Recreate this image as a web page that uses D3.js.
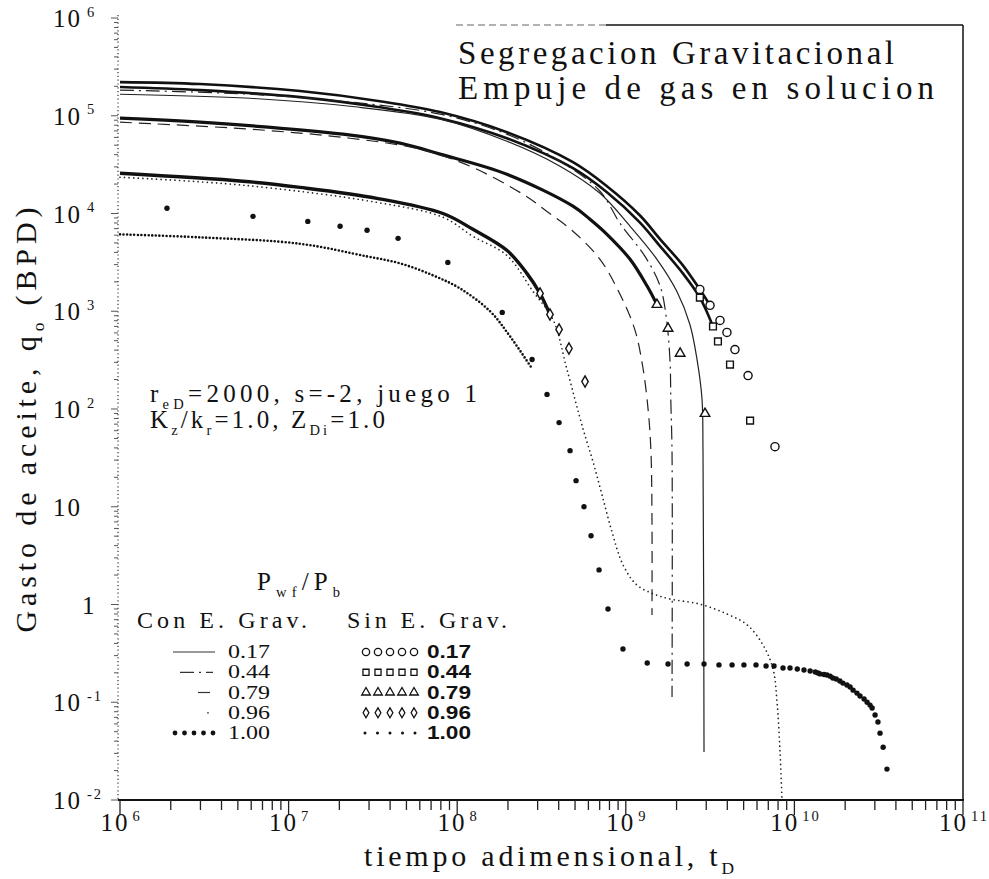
<!DOCTYPE html>
<html>
<head>
<meta charset="utf-8">
<script src="https://cdn.jsdelivr.net/npm/d3@7"></script>
<style>
	body { margin: 0; background: #fff; }
	svg { display: block; }
</style>
</head>
<body>
<div id="chart"></div>
<script>
// ---- Sin E. Grav. (markers) ----
const tSin017 = [1e6, 2.98e6, 1.17e7, 3.48e7, 7.91e7, 1.97e8, 4.86e8, 7.73e8, 1.21e9, 1.6e9, 2.18e9, 2.75e9, 3.16e9, 3.62e9, 3.98e9, 4.44e9, 5.31e9, 7.67e9];
const qSin017 = [2.21e5, 2.11e5, 1.79e5, 1.41e5, 1.09e5, 6.79e4, 3.35e4, 1.9e4, 9.59e3, 5.44e3, 2.95e3, 1.67e3, 1.15e3, 805, 607, 406, 220, 41.2];

const tSin044 = [1e6, 2.98e6, 1.17e7, 3.48e7, 7.91e7, 1.97e8, 4.86e8, 7.73e8, 1.21e9, 1.6e9, 2.18e9, 2.75e9, 3.29e9, 3.52e9, 4.15e9, 5.46e9];
const qSin044 = [1.97e5, 1.83e5, 1.55e5, 1.22e5, 9.45e4, 5.89e4, 2.91e4, 1.65e4, 8.13e3, 4.61e3, 2.44e3, 1.38e3, 699, 491, 285, 76];

const tSin079 = [1e6, 2.98e6, 2.1e7, 4.58e7, 7.91e7, 1.97e8, 4.86e8, 6.13e8, 7.73e8, 1.06e9, 1.34e9, 1.53e9, 1.78e9, 2.1e9, 2.95e9];
const qSin079 = [9.45e4, 8.59e4, 6.48e4, 5.24e4, 4.05e4, 2.52e4, 1.19e4, 8.73e3, 6.12e3, 3.4e3, 1.8e3, 1.17e3, 667, 370, 89.7];

const tSin096 = [1e6, 5.36e6, 1.17e7, 3.34e7, 8.24e7, 1.24e8, 1.97e8, 2.59e8, 3.1e8, 3.55e8, 4.02e8, 4.6e8, 5.73e8];
const qSin096 = [2.58e4, 2.14e4, 1.85e4, 1.43e4, 1.0e4, 6.89e3, 4.2e3, 2.44e3, 1.52e3, 927, 652, 416, 191];

const tSin100 = [1e6, 2.98e6, 1.17e7, 2.92e7, 4.58e7, 7.18e7, 1.04e8, 1.57e8, 2.06e8, 2.78e8];
const qSin100 = [6.12e3, 5.7e3, 4.9e3, 3.64e3, 3.09e3, 2.33e3, 1.71e3, 995, 552, 259];

// ---- Con E. Grav. (lines) ----
const tCon017 = [1e6, 5.9e6, 2.31e7, 7.91e7, 1.97e8, 4.07e8, 7.03e8, 1.06e9, 1.53e9, 2.01e9, 2.4e9, 2.64e9, 2.83e9, 2.87e9, 2.91e9];
const qCon017 = [1.66e5, 1.51e5, 1.25e5, 9.23e4, 5.49e4, 3.05e4, 1.61e4, 7.4e3, 3.4e3, 1.59e3, 732, 328, 128, 36.6, 0.031];

const tCon044 = [1e6, 5.9e6, 2.31e7, 7.91e7, 1.97e8, 4.07e8, 7.03e8, 9.24e8, 1.3e9, 1.6e9, 1.75e9, 1.83e9, 1.85e9, 1.88e9, 1.88e9];
const qCon044 = [1.83e5, 1.66e5, 1.38e5, 1.04e5, 6.48e4, 3.43e4, 1.69e4, 7.94e3, 3.64e3, 1.8e3, 786, 306, 119, 36.6, 0.113];

const tCon079 = [1e6, 5.9e6, 2.31e7, 6.01e7, 1.19e8, 2.46e8, 3.41e8, 4.86e8, 7.03e8, 9.24e8, 1.13e9, 1.26e9, 1.36e9, 1.41e9, 1.43e9, 1.43e9];
const qCon079 = [8.59e4, 7.29e4, 5.89e4, 4.55e4, 3.05e4, 1.57e4, 1.05e4, 6.58e3, 3.4e3, 1.49e3, 652, 272, 94, 36.6, 7.02, 0.78];

const tCon096 = [1e6, 5.36e6, 3.34e7, 8.24e7, 1.24e8, 1.97e8, 2.82e8, 3.7e8, 4.48e8, 5.57e8, 6.39e8, 7.22e8, 8.28e8, 9.62e8, 1.16e9, 1.45e9, 1.83e9, 2.75e9, 3.98e9, 5.24e9, 6.52e9, 7.47e9, 7.89e9, 8.22e9, 8.44e9];
const qCon096 = [2.35e4, 1.95e4, 1.3e4, 9.15e3, 5.84e3, 3.73e3, 1.59e3, 824, 253, 63, 28.9, 13.3, 5.54, 2.55, 1.59, 1.29, 1.14, 1.01, 0.8, 0.62, 0.385, 0.219, 0.1, 0.031, 0.0101];

const tCon100 = [1.9e6, 6.15e6, 1.3e7, 2.02e7, 2.92e7, 4.46e7, 8.8e7, 1.85e8, 2.78e8, 3.41e8, 4.02e8, 4.67e8, 5.07e8, 5.65e8, 6.22e8, 6.94e8, 7.84e8, 9.62e8,
	1.34e9, 1.78e9, 2.31e9, 2.91e9, 3.57e9, 4.27e9, 5.02e9, 5.92e9, 6.79e9, 7.57e9, 8.56e9, 9.42e9, 1.04e10, 1.14e10, 1.24e10, 1.33e10, 1.38e10, 1.42e10,
	1.5e10, 1.56e10, 1.63e10, 1.69e10, 1.77e10, 1.86e10, 1.94e10, 2.05e10, 2.14e10, 2.23e10, 2.35e10, 2.45e10, 2.59e10, 2.7e10, 2.81e10, 2.89e10,
	3.01e10, 3.13e10, 3.22e10, 3.36e10, 3.54e10];
const qCon100 = [1.13e4, 9.35e3, 8.3e3, 7.4e3, 6.73e3, 5.57e3, 3.16e3, 973, 321, 141, 72.6, 37.5, 18.5, 10.0, 5.05, 2.26, 0.9, 0.35,
	0.252, 0.246, 0.246, 0.246, 0.241, 0.241, 0.241, 0.241, 0.235, 0.235, 0.224, 0.224, 0.219, 0.214, 0.209, 0.204, 0.199, 0.195,
	0.192, 0.19, 0.185, 0.177, 0.173, 0.165, 0.157, 0.15, 0.143, 0.133, 0.124, 0.116, 0.108, 0.1, 0.0935, 0.0873,
	0.074, 0.0627, 0.0483, 0.0347, 0.0207];

// ---- ticks and legend labels ----
const xTickValues = [1e6, 1e7, 1e8, 1e9, 1e10, 1e11];
const yTickValues = [1e-2, 1e-1, 1, 10, 1e2, 1e3, 1e4, 1e5, 1e6];
const legendLabels = ['0.17', '0.44', '0.79', '0.96', '1.00'];

const SERIF = "'Liberation Serif', 'DejaVu Serif', serif";
const SANS = "'Liberation Sans', Arial, sans-serif";

function zip(t, q) {
	return t.map((d, i) => ({ t: d, q: q[i] }));
}

// write text with sub / superscript parts
function richText(sel, parts, size) {
	let shift = 0;
	parts.forEach((p) => {
		const target = p.sub ? size * 0.28 : p.sup ? -size * 0.42 : 0;
		sel.append('tspan')
			.attr('dy', target - shift)
			.attr('dx', p.dx || 0)
			.attr('font-size', p.sub || p.sup ? size * 0.58 : size)
			.text(p.t);
		shift = target;
	});
	return sel;
}

function createChart() {
	const W = 989, H = 879;
	const left = 120, right = 963, bottom = 800, top = 18;

	const svg = d3.select('#chart')
		.append('svg')
		.attr('width', W)
		.attr('height', H);

	const x = d3.scaleLog().domain([1e6, 1e11]).range([left, right]);
	const y = d3.scaleLog().domain([1e-2, 1e6]).range([bottom, top]);

	svg.append('defs').append('clipPath').attr('id', 'plot')
		.append('rect').attr('x', 118).attr('y', 14).attr('width', right - 118).attr('height', bottom - 14);

	// ---- frame ----
	const frame = svg.append('g').attr('stroke', '#111').attr('fill', 'none');
	frame.append('line').attr('x1', 118).attr('x2', 118).attr('y1', 15).attr('y2', bottom)
		.attr('stroke', '#444').attr('stroke-width', 1.3).attr('stroke-dasharray', '1.2,2.6');
	frame.append('line').attr('x1', 118).attr('x2', right + 1).attr('y1', bottom).attr('y2', bottom)
		.attr('stroke-width', 2);
	frame.append('line').attr('x1', right).attr('x2', right).attr('y1', 25).attr('y2', bottom)
		.attr('stroke-width', 1.5);
	frame.append('line').attr('x1', 456).attr('x2', 606).attr('y1', 25).attr('y2', 25)
		.attr('stroke', '#666').attr('stroke-width', 1.2).attr('stroke-dasharray', '7,4');
	frame.append('line').attr('x1', 606).attr('x2', right).attr('y1', 25).attr('y2', 25)
		.attr('stroke-width', 1.5);

	// ---- ticks ----
	svg.append('g').selectAll('line').data(x.ticks()).enter().append('line')
		.attr('x1', (d) => x(d)).attr('x2', (d) => x(d))
		.attr('y1', bottom)
		.attr('y2', (d) => bottom + (xTickValues.includes(d) ? 15 : 10))
		.attr('stroke', '#222').attr('stroke-width', 1.3);

	svg.append('g').selectAll('line').data(y.ticks()).enter().append('line')
		.attr('y1', (d) => y(d)).attr('y2', (d) => y(d))
		.attr('x1', 118)
		.attr('x2', (d) => 118 - (yTickValues.includes(d) ? 7 : 4))
		.attr('stroke', '#555').attr('stroke-width', 1);

	// ---- tick labels ----
	const xl = svg.append('g').attr('font-family', SERIF).attr('fill', '#111');
	xTickValues.forEach((v) => {
		const e = Math.round(Math.log10(v));
		const t = xl.append('text').attr('x', x(v) + 1).attr('y', 831)
			.attr('text-anchor', 'middle').attr('letter-spacing', 2);
		richText(t, [{ t: '10' }, { t: String(e), sup: true, dx: 3 }], 25);
	});

	const yl = svg.append('g').attr('font-family', SERIF).attr('fill', '#111');
	yTickValues.forEach((v) => {
		const e = Math.round(Math.log10(v));
		const t = yl.append('text').attr('y', y(v) + 9).attr('letter-spacing', 2);
		if (e === 0) {
			t.attr('x', 82);
			richText(t, [{ t: '1' }], 25);
		} else if (e === 1) {
			t.attr('x', 53);
			richText(t, [{ t: '10' }], 25);
		} else {
			t.attr('x', 53);
			richText(t, [{ t: '10' }, { t: e < 0 ? '-' + (-e) : String(e), sup: true, dx: 5 }], 25);
		}
	});

	// ---- axis titles ----
	const xt = svg.append('text').attr('x', 549).attr('y', 866)
		.attr('text-anchor', 'middle').attr('font-family', SERIF).attr('fill', '#111')
		.attr('textLength', 370);
	richText(xt, [{ t: 'tiempo adimensional, t' }, { t: 'D', sub: true }], 30);

	const yt = svg.append('text').attr('transform', 'translate(36,420) rotate(-90)')
		.attr('text-anchor', 'middle').attr('font-family', SERIF).attr('fill', '#111')
		.attr('textLength', 425);
	richText(yt, [{ t: 'Gasto de aceite, q' }, { t: 'o', sub: true }, { t: ' (BPD)' }], 30);

	// ---- data ----
	const plot = svg.append('g').attr('clip-path', 'url(#plot)');
	const line = d3.line()
		.x((d) => x(d.t))
		.y((d) => y(d.q))
		.curve(d3.curveCatmullRom.alpha(0.5));

	const sinSeries = [
		{ key: '0.17', data: zip(tSin017, qSin017), symbol: d3.symbolCircle, size: 52, band: 2.6, bandEnd: 12, markFrom: 11 },
		{ key: '0.44', data: zip(tSin044, qSin044), symbol: d3.symbolSquare, size: 46, band: 2.6, bandEnd: 12, markFrom: 11 },
		{ key: '0.79', data: zip(tSin079, qSin079), symbol: d3.symbolTriangle, size: 40, band: 3.2, bandEnd: 11, markFrom: 11 },
		{ key: '0.96', data: zip(tSin096, qSin096), symbol: d3.symbolDiamond, size: 36, band: 3.4, bandEnd: 9, markFrom: 8 },
	];

	const conSeries = [
		{ key: '0.17', data: zip(tCon017, qCon017), dash: null, width: 1.2, cap: 'butt' },
		{ key: '0.44', data: zip(tCon044, qCon044), dash: '14,5,2,5', width: 1.2, cap: 'butt' },
		{ key: '0.79', data: zip(tCon079, qCon079), dash: '12,7', width: 1.2, cap: 'butt' },
		{ key: '0.96', data: zip(tCon096, qCon096), dash: '0,4.6', width: 1.7, cap: 'round' },
	];

	// dense bands of the marker series
	sinSeries.forEach((s) => {
		plot.append('path')
			.datum(s.data.slice(0, s.bandEnd + 1))
			.attr('d', line)
			.attr('fill', 'none')
			.attr('stroke', '#111')
			.attr('stroke-width', s.band);
	});

	// small dots, Sin 1.00
	plot.append('path')
		.datum(zip(tSin100, qSin100))
		.attr('d', line)
		.attr('fill', 'none')
		.attr('stroke', '#111')
		.attr('stroke-width', 2.6)
		.attr('stroke-linecap', 'round')
		.attr('stroke-dasharray', '0,3.6');

	// gravity lines
	conSeries.forEach((s) => {
		plot.append('path')
			.datum(s.data)
			.attr('d', line)
			.attr('fill', 'none')
			.attr('stroke', '#222')
			.attr('stroke-width', s.width)
			.attr('stroke-linecap', s.cap)
			.attr('stroke-dasharray', s.dash);
	});

	// sparse tail markers
	sinSeries.forEach((s) => {
		plot.append('g').selectAll('path')
			.data(s.data.slice(s.markFrom))
			.enter()
			.append('path')
			.attr('transform', (d) => `translate(${x(d.t)},${y(d.q)})`)
			.attr('d', d3.symbol().type(s.symbol).size(s.size))
			.attr('fill', '#fff')
			.attr('stroke', '#111')
			.attr('stroke-width', 1.4);
	});

	// big dots, Con 1.00
	plot.append('g').selectAll('circle')
		.data(zip(tCon100, qCon100))
		.enter()
		.append('circle')
		.attr('cx', (d) => x(d.t))
		.attr('cy', (d) => y(d.q))
		.attr('r', 2.7)
		.attr('fill', '#111');

	// ---- title ----
	const title = svg.append('g').attr('font-family', SERIF).attr('fill', '#111').attr('font-size', 33);
	title.append('text').attr('x', 458).attr('y', 64).attr('textLength', 436).text('Segregacion Gravitacional');
	title.append('text').attr('x', 458).attr('y', 99).attr('textLength', 476).text('Empuje de gas en solucion');

	// ---- annotation ----
	const note = svg.append('g').attr('font-family', SERIF).attr('fill', '#111');
	richText(note.append('text').attr('x', 150).attr('y', 402).attr('textLength', 327),
		[{ t: 'r' }, { t: 'eD', sub: true }, { t: '=2000, s=-2, juego 1' }], 25);
	richText(note.append('text').attr('x', 150).attr('y', 428).attr('textLength', 235),
		[{ t: 'K' }, { t: 'z', sub: true }, { t: '/k' }, { t: 'r', sub: true }, { t: '=1.0, Z' }, { t: 'Di', sub: true }, { t: '=1.0' }], 25);

	// ---- legend ----
	const lg = svg.append('g').attr('font-family', SERIF).attr('fill', '#111');
	richText(lg.append('text').attr('x', 257).attr('y', 590).attr('textLength', 83),
		[{ t: 'P' }, { t: 'wf', sub: true }, { t: '/P' }, { t: 'b', sub: true }], 25);
	lg.append('text').attr('x', 137).attr('y', 628).attr('font-size', 24).attr('textLength', 170).text('Con E. Grav.');
	lg.append('text').attr('x', 347).attr('y', 628).attr('font-size', 24).attr('textLength', 160).text('Sin E. Grav.');

	const rowY = [658, 678.3, 698.5, 718.8, 739];
	const sampleX = [[173, 215], [180, 213], [198, 213], [208, 212]];

	legendLabels.forEach((lab, i) => {
		const yy = rowY[i];
		lg.append('text').attr('x', 228).attr('y', yy).attr('font-size', 18)
			.attr('textLength', 42).attr('lengthAdjust', 'spacingAndGlyphs').text(lab);
		lg.append('text').attr('x', 427).attr('y', yy)
			.attr('font-family', SANS).attr('font-weight', 'bold').attr('font-size', 17.5)
			.attr('textLength', 44).attr('lengthAdjust', 'spacingAndGlyphs').text(lab);

		if (i < 4) {
			const s = conSeries[i];
			lg.append('line')
				.attr('x1', sampleX[i][0]).attr('x2', sampleX[i][1])
				.attr('y1', yy - 6).attr('y2', yy - 6)
				.attr('stroke', '#333')
				.attr('stroke-width', s.width)
				.attr('stroke-linecap', s.cap)
				.attr('stroke-dasharray', s.dash);
			const m = sinSeries[i];
			d3.range(5).forEach((k) => {
				lg.append('path')
					.attr('transform', `translate(${366 + k * 12},${yy - 6})`)
					.attr('d', d3.symbol().type(m.symbol).size(m.size * 0.8))
					.attr('fill', '#fff').attr('stroke', '#111').attr('stroke-width', 1.3);
			});
		} else {
			d3.range(5).forEach((k) => {
				lg.append('circle').attr('cx', 175 + k * 9.5).attr('cy', yy - 6).attr('r', 2.4).attr('fill', '#111');
				lg.append('circle').attr('cx', 365 + k * 12.5).attr('cy', yy - 6).attr('r', 1.5).attr('fill', '#111');
			});
		}
	});
}

createChart();
</script>
</body>
</html>
